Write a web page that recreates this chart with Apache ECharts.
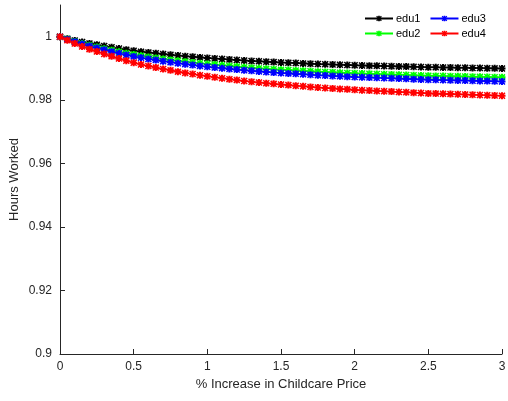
<!DOCTYPE html>
<html><head><meta charset="utf-8">
<script src="https://cdn.jsdelivr.net/npm/echarts@6/dist/echarts.min.js"></script>
<style>html,body{margin:0;padding:0;background:#fff}#c{width:508px;height:401px}</style>
</head><body><div id="c"></div>
<script>
var xValues = [0,0.05,0.1,0.15,0.2,0.25,0.3,0.35,0.4,0.45,0.5,0.55,0.6,0.65,0.7,0.75,0.8,0.85,0.9,0.95,1,1.05,1.1,1.15,1.2,1.25,1.3,1.35,1.4,1.45,1.5,1.55,1.6,1.65,1.7,1.75,1.8,1.85,1.9,1.95,2,2.05,2.1,2.15,2.2,2.25,2.3,2.35,2.4,2.45,2.5,2.55,2.6,2.65,2.7,2.75,2.8,2.85,2.9,2.95,3];
var edu1 = [1,0.9994,0.99885,0.99835,0.9979,0.9975,0.99707,0.99667,0.99629,0.99593,0.9956,0.9953,0.99503,0.99477,0.99453,0.9943,0.99408,0.99387,0.99367,0.99348,0.9933,0.99313,0.99297,0.99281,0.99265,0.9925,0.99237,0.99225,0.99213,0.99201,0.9919,0.9918,0.9917,0.9916,0.9915,0.9914,0.99132,0.99124,0.99116,0.99108,0.991,0.99094,0.99088,0.99082,0.99076,0.9907,0.99064,0.99058,0.99052,0.99046,0.9904,0.99036,0.99032,0.99028,0.99024,0.9902,0.99016,0.99012,0.99008,0.99004,0.99];
var edu2 = [1,0.99923,0.99853,0.99789,0.99731,0.9968,0.99625,0.99574,0.99525,0.99479,0.99437,0.99398,0.99364,0.99331,0.993,0.9927,0.99242,0.99215,0.9919,0.99165,0.99142,0.99121,0.991,0.9908,0.99059,0.9904,0.99023,0.99008,0.98993,0.98977,0.98963,0.9895,0.98938,0.98925,0.98912,0.98899,0.98889,0.98879,0.98868,0.98858,0.98848,0.9884,0.98833,0.98825,0.98817,0.9881,0.98802,0.98794,0.98787,0.98779,0.98771,0.98766,0.98761,0.98756,0.98751,0.98746,0.9874,0.98735,0.9873,0.98725,0.9872];
var edu3 = [1,0.99915,0.99838,0.99767,0.99704,0.99647,0.99587,0.9953,0.99477,0.99426,0.9938,0.99337,0.99299,0.99263,0.99229,0.99196,0.99165,0.99136,0.99107,0.99081,0.99055,0.99031,0.99009,0.98986,0.98964,0.98942,0.98924,0.98907,0.9889,0.98873,0.98858,0.98844,0.9883,0.98816,0.98801,0.98787,0.98776,0.98765,0.98754,0.98742,0.98731,0.98723,0.98714,0.98706,0.98697,0.98689,0.9868,0.98672,0.98663,0.98655,0.98646,0.98641,0.98635,0.98629,0.98624,0.98618,0.98613,0.98607,0.98601,0.98596,0.9859];
var edu4 = [1,0.99888,0.99786,0.99693,0.99609,0.99535,0.99455,0.99381,0.9931,0.99243,0.99182,0.99126,0.99076,0.99027,0.98983,0.9894,0.98899,0.9886,0.98823,0.98787,0.98754,0.98722,0.98692,0.98663,0.98633,0.98605,0.98581,0.98558,0.98536,0.98514,0.98493,0.98475,0.98456,0.98438,0.98419,0.984,0.98386,0.98371,0.98356,0.98341,0.98326,0.98315,0.98304,0.98293,0.98281,0.9827,0.98259,0.98248,0.98237,0.98226,0.98214,0.98207,0.982,0.98192,0.98185,0.98177,0.9817,0.98162,0.98155,0.98147,0.9814];
var seriesNames = ['edu1','edu2','edu3','edu4'];
var seriesColors = ['#000000','#00ff00','#0000ff','#ff0000'];
var seriesValues = [edu1, edu2, edu3, edu4];
var xLabel = '% Increase in Childcare Price';
var yLabel = 'Hours Worked';

var star = 'path://M0.35,0H0.65V0.35H1V0.65H0.65V1H0.35V0.65H0V0.35H0.35Z M0.15,0L1,0.85L0.85,1L0,0.15Z M0.85,0L1,0.15L0.15,1L0,0.85Z';
var chart = echarts.init(document.getElementById('c'), null, {renderer:'canvas'});
var axisCol = '#262626';
var font = 'Liberation Sans, Arial, Helvetica, sans-serif';
var series = seriesNames.map(function(n, i){
  return {
    name: n, type: 'line',
    data: xValues.map(function(x, j){ return [x, seriesValues[i][j]]; }),
    symbol: star, symbolSize: 7, showSymbol: true,
    lineStyle: {color: seriesColors[i], width: 1.6},
    itemStyle: {color: seriesColors[i]},
    animation: false, z: 2 + i
  };
});
var legendCommon = {
  orient: 'horizontal', itemWidth: 28, itemHeight: 7, itemGap: 9,
  textStyle: {fontFamily: font, fontSize: 11, color: '#000', padding: [0,0,0,-2]},
  padding: 0
};
chart.setOption({
  backgroundColor: '#fff',
  animation: false,
  grid: {left: 60, right: 6, top: 5, bottom: 47, containLabel: false, outerBoundsMode: 'none'},
  legend: [
    Object.assign({}, legendCommon, {data: ['edu1','edu3'], left: 364, top: 13}),
    Object.assign({}, legendCommon, {data: ['edu2','edu4'], left: 364, top: 28})
  ],
  xAxis: {
    type: 'value', min: 0, max: 3, interval: 0.5,
    name: xLabel, nameLocation: 'middle', nameGap: 24, nameMoveOverlap: false,
    nameTextStyle: {fontFamily: font, fontSize: 13, color: axisCol},
    axisLine: {show: true, lineStyle: {color: axisCol, width: 1}},
    axisTick: {show: true, inside: true, length: 5, lineStyle: {color: axisCol}},
    axisLabel: {fontFamily: font, fontSize: 12, color: axisCol, margin: 7},
    splitLine: {show: false}
  },
  yAxis: {
    type: 'value', min: 0.9, max: 1.01, interval: 0.02,
    name: yLabel, nameLocation: 'middle', nameGap: 39, nameMoveOverlap: false,
    nameTextStyle: {fontFamily: font, fontSize: 13, color: axisCol},
    axisLine: {show: true, lineStyle: {color: axisCol, width: 1}},
    axisTick: {show: true, inside: true, length: 5, lineStyle: {color: axisCol}},
    axisLabel: {fontFamily: font, fontSize: 12, color: axisCol, margin: 8, showMaxLabel: false,
      formatter: function(v){ return v > 1.0001 ? '' : String(+v.toFixed(2)); }},
    splitLine: {show: false}
  },
  series: series
});
</script>
</body></html>
